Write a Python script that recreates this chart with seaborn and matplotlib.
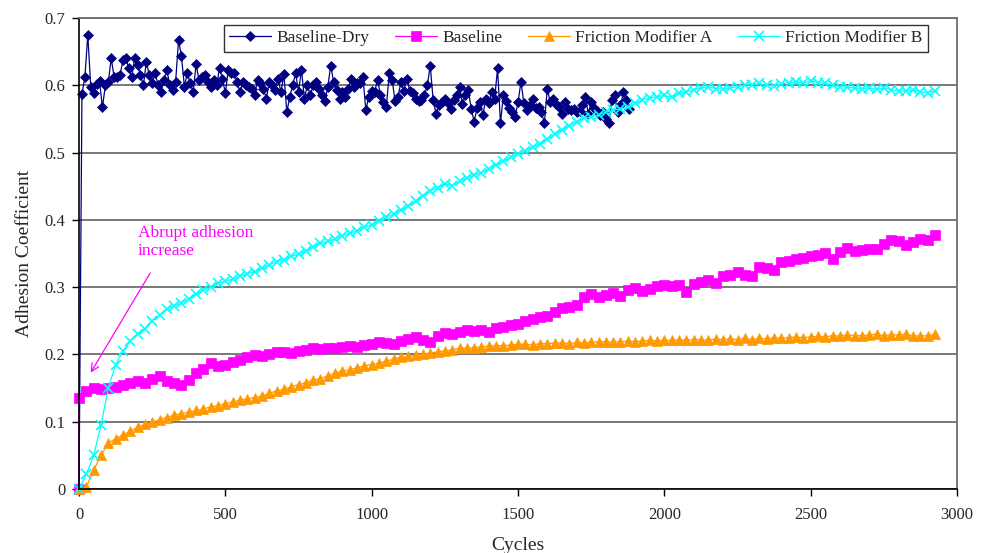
import numpy as np
import matplotlib
matplotlib.use("Agg")
import matplotlib.pyplot as plt
import seaborn as sns

# Adhesion coefficient vs cycles
# Baseline-Dry sampled every 10 cycles, the other three every 25 cycles
dry = [
    0.0, 0.587, 0.612, 0.675, 0.598, 0.588, 0.602, 0.606, 0.567, 0.600,
    0.605, 0.640, 0.612, 0.613, 0.615, 0.637, 0.640, 0.625, 0.613, 0.640,
    0.630, 0.615, 0.600, 0.635, 0.615, 0.603, 0.618, 0.600, 0.590, 0.608,
    0.623, 0.600, 0.593, 0.605, 0.667, 0.643, 0.598, 0.618, 0.603, 0.590,
    0.631, 0.608, 0.612, 0.615, 0.605, 0.598, 0.608, 0.600, 0.625, 0.610,
    0.588, 0.623, 0.618, 0.618, 0.605, 0.590, 0.605, 0.600, 0.598, 0.595,
    0.586, 0.608, 0.604, 0.595, 0.580, 0.605, 0.600, 0.593, 0.609, 0.590,
    0.616, 0.560, 0.583, 0.600, 0.618, 0.590, 0.623, 0.580, 0.600, 0.585,
    0.600, 0.605, 0.595, 0.585, 0.576, 0.598, 0.629, 0.605, 0.593, 0.580,
    0.590, 0.583, 0.595, 0.610, 0.598, 0.603, 0.603, 0.613, 0.563, 0.583,
    0.592, 0.590, 0.608, 0.585, 0.575, 0.568, 0.618, 0.608, 0.576, 0.583,
    0.605, 0.592, 0.610, 0.592, 0.588, 0.580, 0.576, 0.578, 0.585, 0.600,
    0.629, 0.578, 0.557, 0.571, 0.575, 0.580, 0.573, 0.565, 0.578, 0.585,
    0.597, 0.572, 0.585, 0.593, 0.565, 0.546, 0.566, 0.575, 0.556, 0.580,
    0.573, 0.590, 0.580, 0.625, 0.544, 0.585, 0.577, 0.566, 0.560, 0.553,
    0.575, 0.605, 0.573, 0.563, 0.570, 0.580, 0.566, 0.568, 0.560, 0.544,
    0.595, 0.575, 0.580, 0.572, 0.568, 0.558, 0.575, 0.565, 0.563, 0.565,
    0.560, 0.562, 0.570, 0.582, 0.558, 0.575, 0.566, 0.562, 0.556, 0.560,
    0.550, 0.544, 0.578, 0.585, 0.560, 0.570, 0.590, 0.578, 0.565,
]

baseline = [
    0.135, 0.145, 0.150, 0.148, 0.150, 0.152, 0.155, 0.158, 0.160, 0.158,
    0.163, 0.168, 0.160, 0.157, 0.155, 0.162, 0.172, 0.178, 0.188, 0.183,
    0.185, 0.189, 0.192, 0.196, 0.199, 0.197, 0.200, 0.203, 0.204, 0.202,
    0.205, 0.207, 0.209, 0.208, 0.210, 0.209, 0.211, 0.212, 0.211, 0.214,
    0.215, 0.218, 0.217, 0.215, 0.220, 0.223, 0.226, 0.222, 0.219, 0.228,
    0.232, 0.230, 0.234, 0.236, 0.235, 0.237, 0.233, 0.240, 0.241, 0.243,
    0.245, 0.250, 0.252, 0.255, 0.257, 0.263, 0.269, 0.271, 0.274, 0.285,
    0.290, 0.285, 0.288, 0.291, 0.287, 0.296, 0.299, 0.295, 0.297, 0.302,
    0.303, 0.301, 0.303, 0.293, 0.305, 0.308, 0.310, 0.306, 0.316, 0.318,
    0.323, 0.318, 0.316, 0.330, 0.328, 0.326, 0.338, 0.339, 0.342, 0.344,
    0.346, 0.348, 0.350, 0.342, 0.352, 0.358, 0.353, 0.355, 0.357, 0.356,
    0.364, 0.370, 0.368, 0.363, 0.367, 0.372, 0.370, 0.377,
]

fm_a = [
    0.000, 0.003, 0.028, 0.050, 0.068, 0.075, 0.080, 0.086, 0.092, 0.096,
    0.099, 0.103, 0.106, 0.110, 0.112, 0.114, 0.117, 0.119, 0.122, 0.124,
    0.127, 0.129, 0.132, 0.134, 0.136, 0.138, 0.142, 0.146, 0.148, 0.152,
    0.155, 0.158, 0.162, 0.164, 0.168, 0.172, 0.175, 0.177, 0.180, 0.183,
    0.185, 0.187, 0.190, 0.193, 0.196, 0.197, 0.199, 0.200, 0.202, 0.204,
    0.205, 0.207, 0.209, 0.209, 0.210, 0.211, 0.212, 0.213, 0.213, 0.214,
    0.215, 0.215, 0.214, 0.216, 0.216, 0.217, 0.217, 0.216, 0.218, 0.217,
    0.218, 0.219, 0.219, 0.218, 0.219, 0.220, 0.219, 0.220, 0.221, 0.220,
    0.221, 0.221, 0.222, 0.221, 0.222, 0.222, 0.221, 0.223, 0.222, 0.223,
    0.222, 0.224, 0.222, 0.224, 0.223, 0.225, 0.224, 0.225, 0.226, 0.225,
    0.226, 0.227, 0.226, 0.228, 0.227, 0.229, 0.228, 0.228, 0.229, 0.230,
    0.228, 0.229, 0.229, 0.230, 0.228, 0.227, 0.228, 0.230,
]

fm_b = [
    0.000, 0.022, 0.050, 0.095, 0.150, 0.185, 0.205, 0.220, 0.231, 0.238,
    0.250, 0.258, 0.268, 0.272, 0.277, 0.282, 0.290, 0.296, 0.300, 0.306,
    0.309, 0.312, 0.316, 0.320, 0.323, 0.328, 0.333, 0.338, 0.341, 0.346,
    0.349, 0.354, 0.360, 0.365, 0.368, 0.372, 0.376, 0.380, 0.384, 0.389,
    0.393, 0.398, 0.404, 0.409, 0.414, 0.420, 0.428, 0.436, 0.443, 0.448,
    0.453, 0.451, 0.457, 0.462, 0.467, 0.470, 0.476, 0.482, 0.487, 0.493,
    0.498, 0.503, 0.508, 0.513, 0.520, 0.528, 0.534, 0.540, 0.546, 0.551,
    0.553, 0.556, 0.560, 0.563, 0.565, 0.567, 0.573, 0.578, 0.581, 0.583,
    0.585, 0.582, 0.588, 0.590, 0.593, 0.596, 0.598, 0.595, 0.594, 0.596,
    0.598, 0.600, 0.601, 0.603, 0.600, 0.599, 0.602, 0.604, 0.605, 0.603,
    0.607, 0.604, 0.603, 0.600, 0.598, 0.597, 0.596, 0.595, 0.596, 0.594,
    0.596, 0.593, 0.592, 0.591, 0.593, 0.590, 0.589, 0.592,
]

dry_cycles = np.arange(len(dry)) * 10
cycles = np.arange(len(fm_a)) * 25
# baseline jumps straight up at cycle 0
base_cycles = np.r_[0, cycles]
base_vals = [0.0] + baseline

series_names = ["Baseline-Dry", "Baseline", "Friction Modifier A", "Friction Modifier B"]
colors = ["#000080", "#FF00FF", "#FF9900", "#00FFFF"]

sns.set_style("white")
plt.rcParams["font.family"] = ["Liberation Serif", "DejaVu Serif"]

fig = plt.figure(figsize=(9.89, 5.53), dpi=100)
ax = fig.add_axes([0.0799, 0.1157, 0.8878, 0.8518])

common = dict(ax=ax, estimator=None, sort=False, linewidth=0.9, clip_on=False)
sns.lineplot(x=dry_cycles, y=dry, color=colors[0], marker="D", markersize=5.2,
             markeredgecolor=colors[0], markeredgewidth=0.5,
             label=series_names[0], **common)
sns.lineplot(x=base_cycles, y=base_vals, color=colors[1], marker="s", markersize=6.8,
             markeredgecolor=colors[1], markeredgewidth=0.5,
             label=series_names[1], **common)
sns.lineplot(x=cycles, y=fm_a, color=colors[2], marker="^", markersize=7.5,
             markeredgecolor=colors[2], markeredgewidth=0.5,
             label=series_names[2], **common)
sns.lineplot(x=cycles, y=fm_b, color=colors[3], marker="x", markersize=6.5,
             markeredgecolor=colors[3], markeredgewidth=1.2,
             label=series_names[3], **common)

ax.set_xlim(0, 3000)
ax.set_ylim(0, 0.7)
ax.set_xticks(np.arange(0, 3001, 500))
yt = np.round(np.arange(0, 0.71, 0.1), 1)
ax.set_yticks(yt)
ax.set_yticklabels(["0"] + [f"{v:.1f}" for v in yt[1:]])
ax.tick_params(axis="both", direction="out", length=5, width=1, color="black",
               labelsize=12, bottom=True, left=True)
ax.tick_params(axis="x", pad=8)
ax.tick_params(axis="y", pad=5)
ax.yaxis.grid(True, color="#6e6e6e", linewidth=1.3)
ax.xaxis.grid(False)
ax.set_axisbelow(True)
for side in ["left", "bottom"]:
    ax.spines[side].set_color("black")
    ax.spines[side].set_linewidth(1.2)
for side in ["top", "right"]:
    ax.spines[side].set_color("#6e6e6e")
    ax.spines[side].set_linewidth(1.3)

ax.set_xlabel("Cycles", fontsize=14, labelpad=10)
ax.set_ylabel("Adhesion Coefficient", fontsize=14, labelpad=8)

ax.text(200, 0.392, "Abrupt adhesion\nincrease", color="#FF00FF", fontsize=12.5,
        ha="left", va="top", linespacing=1.15)
ax.annotate("", xy=(40, 0.173), xytext=(243, 0.321),
            arrowprops=dict(arrowstyle="->", color="#FF00FF", lw=0.9,
                            shrinkA=0, shrinkB=0, mutation_scale=14))

leg = ax.legend(loc="upper center", bbox_to_anchor=(0.566, 0.985), ncol=4,
                frameon=True, fancybox=False, fontsize=12.5, handlelength=2.4,
                handletextpad=0.3, columnspacing=1.5, borderpad=0.3,
                borderaxespad=0)
leg.get_frame().set_edgecolor("black")
leg.get_frame().set_linewidth(1.0)

fig.savefig("out.png", dpi=100)
